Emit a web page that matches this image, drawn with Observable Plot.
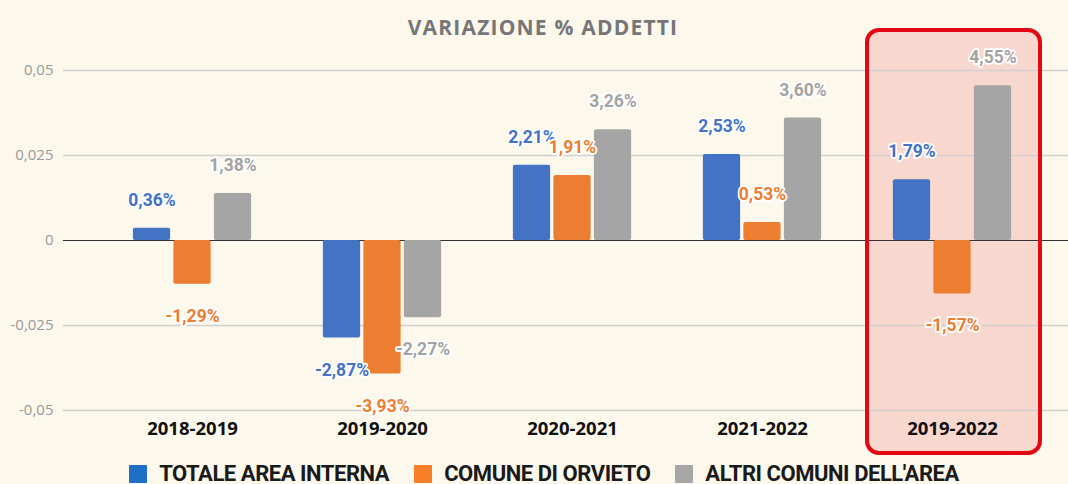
<!DOCTYPE html>
<html>
<head>
<meta charset="utf-8">
<script src="https://cdn.jsdelivr.net/npm/d3@7"></script>
<script src="https://cdn.jsdelivr.net/npm/@observablehq/plot@0.6"></script>
<style>
  html, body { margin: 0; padding: 0; background: #fcf8ec; }
  #wrap { position: relative; width: 1068px; height: 484px; overflow: hidden; background: #fcf8ec; }
  #title { position: absolute; top: 13px; left: 9px; width: 1068px; text-align: center;
           font-family: "Open Sans", sans-serif; font-weight: 700; font-size: 21px; color: #767676;
           line-height: 28px; letter-spacing: 1.2px; z-index: 2; }
  #chart { position: absolute; top: 0; left: 0; }
  #legend { position: absolute; top: 461px; left: 10px; width: 1068px; display: flex; justify-content: center;
            align-items: center; font-family: Roboto, sans-serif; font-weight: 700; font-size: 22px;
            letter-spacing: -0.45px; color: #1a1a1a; line-height: 26px; }
  .item { display: flex; align-items: center; margin: 0 12.5px; }
  .sw { width: 18px; height: 18px; margin-right: 12px; border-radius: 1px; }
</style>
</head>
<body>
<div id="wrap">
  <div id="title">VARIAZIONE % ADDETTI</div>
  <div id="chart"></div>
  <div id="legend"></div>
</div>
<script>
// ---- data ----
const groups = ["2018-2019", "2019-2020", "2020-2021", "2021-2022", "2019-2022"];
const seriesNames = ["TOTALE AREA INTERNA", "COMUNE DI ORVIETO", "ALTRI COMUNI DELL'AREA"];
const totaleArea = [0.0036, -0.0287, 0.0221, 0.0253, 0.0179];
const comuneOrvieto = [-0.0129, -0.0393, 0.0191, 0.0053, -0.0157];
const altriComuni = [0.0138, -0.0227, 0.0326, 0.0360, 0.0455];
const yTicks = [-0.05, -0.025, 0, 0.025, 0.05];
const highlightGroup = ["2019-2022"];

// ---- styling ----
const barColors = ["#4472c4", "#ed7d31", "#a5a5a5"];
const labelColors = ["#4472c4", "#ed7d31", "#a3a3a3"];
const legendColors = ["#1f6fc6", "#f77f2a", "#a6a6a6"];
const step = 190.25, barW = 37.5, offset = 40.5;
const inset = (step - barW) / 2;

const seriesValues = [totaleArea, comuneOrvieto, altriComuni];
const fmt = v => (v * 100).toFixed(2).replace(".", ",") + "%";
const tickFmt = d => d === 0 ? "0" : String(d).replace(".", ",");

const marks = [];
// highlight box fill
marks.push(Plot.barY(highlightGroup, {
  x: d => d, y1: d3.max(yTicks), y2: d3.min(yTicks),
  fill: "#f8d7cf", insetLeft: 10, insetRight: 7, insetTop: -40, insetBottom: -43, rx: 12
}));
// grid
marks.push(Plot.ruleY(yTicks.filter(d => d !== 0), {stroke: "#d2d0cc", strokeWidth: 1.5}));
marks.push(Plot.ruleY([0], {stroke: "#333", strokeWidth: 1.2}));

seriesValues.forEach((vals, s) => {
  const rows = groups.map((g, i) => ({group: g, value: vals[i]}));
  const dx = (s - 1) * offset;
  marks.push(Plot.barY(rows, {
    x: "group", y: "value", fill: barColors[s], insetLeft: inset, insetRight: inset, dx, rx: 2
  }));
});
// highlight box stroke
marks.push(Plot.barY(highlightGroup, {
  x: d => d, y1: d3.max(yTicks), y2: d3.min(yTicks),
  fill: "none", stroke: "#e30613", strokeWidth: 4,
  insetLeft: 10, insetRight: 7, insetTop: -40, insetBottom: -43, rx: 12
}));
seriesValues.forEach((vals, s) => {
  const rows = groups.map((g, i) => ({group: g, value: vals[i]}));
  const dx = (s - 1) * offset;
  const common = {
    x: "group", y: "value", text: d => fmt(d.value), dx, fill: labelColors[s],
    stroke: "white", strokeWidth: 3.5, fontSize: 17.5, fontWeight: 700, fontFamily: "Roboto"
  };
  marks.push(Plot.text(rows.filter(d => d.value >= 0), {...common, dy: -28}));
  marks.push(Plot.text(rows.filter(d => d.value < 0), {...common, dy: 32}));
});
// y tick labels
marks.push(Plot.text(yTicks, {
  y: d => d, text: tickFmt, frameAnchor: "left", dx: -10, textAnchor: "end",
  fill: "#999", fontSize: 15, fontFamily: "Open Sans"
}));
// x labels
marks.push(Plot.text(groups, {
  x: d => d, text: d => d, frameAnchor: "bottom", dy: 24,
  fill: "#111", fontSize: 18.5, fontWeight: 700, fontFamily: "Open Sans"
}));

const plot = Plot.plot({
  width: 1068, height: 462,
  marginTop: 70, marginBottom: 52, marginLeft: 63, marginRight: 0,
  x: {type: "band", domain: groups, range: [96.9, 1048.1], padding: 0, axis: null},
  y: {domain: [d3.min(yTicks), d3.max(yTicks)], axis: null},
  style: {background: "transparent", overflow: "visible"},
  marks
});
document.getElementById("chart").appendChild(plot);

// legend
const legend = document.getElementById("legend");
seriesNames.forEach((name, s) => {
  const item = document.createElement("div");
  item.className = "item";
  const sw = document.createElement("div");
  sw.className = "sw";
  sw.style.background = legendColors[s];
  const t = document.createElement("span");
  t.textContent = name;
  item.appendChild(sw); item.appendChild(t);
  legend.appendChild(item);
});
</script>
</body>
</html>
